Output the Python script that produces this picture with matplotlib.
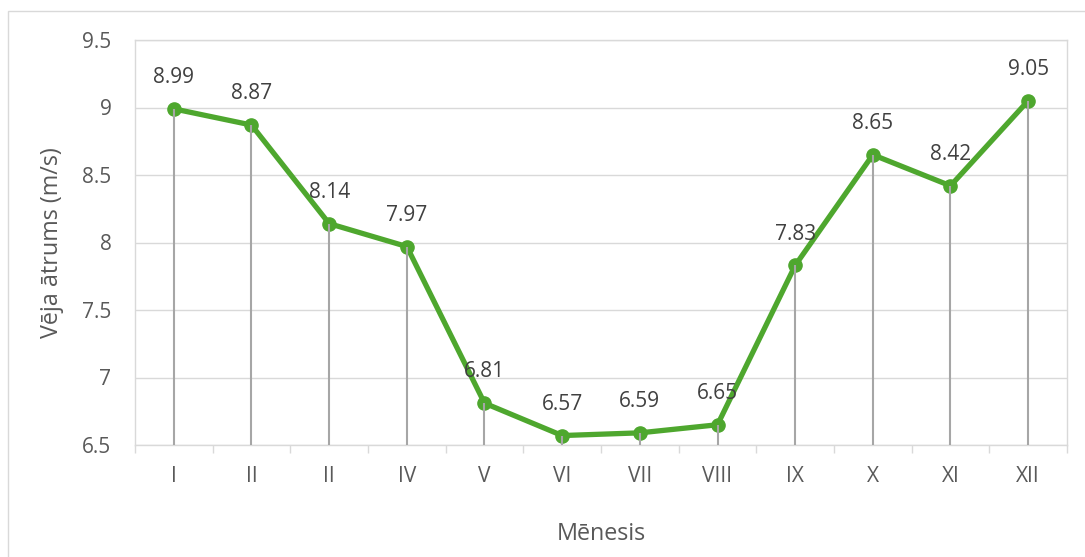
import matplotlib
matplotlib.use("Agg")
import matplotlib.pyplot as plt
from matplotlib.patches import Rectangle

plt.rcParams['font.family'] = ['Open Sans', 'DejaVu Sans']

months = ["I", "II", "II", "IV", "V", "VI", "VII", "VIII", "IX", "X", "XI", "XII"]
wind_speed = [8.99, 8.87, 8.14, 7.97, 6.81, 6.57, 6.59, 6.65, 7.83, 8.65, 8.42, 9.05]
y_ticks = [6.5, 7, 7.5, 8, 8.5, 9, 9.5]
y_tick_labels = ["6.5", "7", "7.5", "8", "8.5", "9", "9.5"]

W, H = 1085, 557
fig = plt.figure(figsize=(W / 100, H / 100), dpi=100)
ax = fig.add_axes([135 / W, 1 - 445 / H, (1067 - 135) / W, (445 - 40) / H])

green = "#4ea72e"
grid_c = "#d9d9d9"
x = list(range(len(months)))

ax.set_xlim(-0.5, len(months) - 0.5)
ax.set_ylim(6.5, 9.5)

# horizontal gridlines
for t in y_ticks:
    ax.axhline(t, color=grid_c, lw=1.0, zorder=0)

ax.plot(x, wind_speed, color=green, lw=3.8, marker="o", ms=9.5,
        solid_capstyle="round", zorder=3)

# drop lines from each point to the axis
ax.vlines(x, 6.5, wind_speed, color="#a6a6a6", lw=1.5, zorder=4)

for xi, v in zip(x, wind_speed):
    ax.annotate(f"{v:.2f}", (xi, v), xytext=(0, 15), textcoords="offset points",
                ha="center", va="bottom", fontsize=15, color="#404040", zorder=5)

ax.set_yticks(y_ticks)
ax.set_yticklabels(y_tick_labels)
ax.set_xticks(x)
ax.set_xticklabels(months)
ax.set_xticks([i - 0.5 for i in range(len(months) + 1)], minor=True)

ax.tick_params(axis="y", length=0, pad=17, labelsize=15, labelcolor="#595959")
ax.tick_params(axis="x", which="major", length=0, pad=15, labelsize=15,
               labelcolor="#595959")
ax.tick_params(axis="x", which="minor", length=6, width=1, color=grid_c)

for s in ax.spines.values():
    s.set_color(grid_c)
    s.set_linewidth(1.0)

ax.set_ylabel("Vēja ātrums (m/s)", fontsize=16.8, color="#595959", labelpad=13)
ax.set_xlabel("Mēnesis", fontsize=16.8, color="#595959", labelpad=25)

# outer chart border
fig.patches.append(Rectangle((8 / W, -0.05), 1.2, 1 - 11 / H + 0.05,
                             transform=fig.transFigure, fill=False,
                             edgecolor=grid_c, lw=1.0))

fig.savefig("out.png", dpi=100)
